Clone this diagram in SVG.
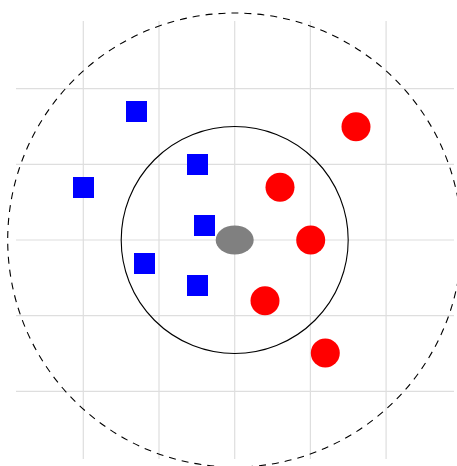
<svg xmlns="http://www.w3.org/2000/svg" width="457" height="466" viewBox="0 0 457 466">
<style>
.grid line{stroke:#dedede;stroke-width:1.2}
.sq{fill:#0000ff}
.dot{fill:#ff0000}
</style>
<rect width="457" height="466" fill="#ffffff"/>
<g class="grid">
<line x1="83.3" y1="21" x2="83.3" y2="459"/>
<line x1="159" y1="21" x2="159" y2="459"/>
<line x1="234.7" y1="21" x2="234.7" y2="459"/>
<line x1="310.4" y1="21" x2="310.4" y2="459"/>
<line x1="386.1" y1="21" x2="386.1" y2="459"/>
<line x1="16" y1="88.6" x2="454" y2="88.6"/>
<line x1="16" y1="164.3" x2="454" y2="164.3"/>
<line x1="16" y1="240" x2="454" y2="240"/>
<line x1="16" y1="315.7" x2="454" y2="315.7"/>
<line x1="16" y1="391.4" x2="454" y2="391.4"/>
</g>
<g id="connectors">
<circle id="outer" cx="234.7" cy="240" r="227" fill="none" stroke="#000" stroke-width="1.1" stroke-dasharray="7,6"/>
<circle id="inner" cx="234.7" cy="240" r="113.5" fill="none" stroke="#000" stroke-width="1.1"/>
</g>
<g id="center"><ellipse cx="234.7" cy="240" rx="19" ry="14.5" fill="#808080"/></g>
<g id="b1"><rect class="sq" x="126" y="101" width="21" height="21"/></g>
<g id="b2"><rect class="sq" x="73" y="177" width="21" height="21"/></g>
<g id="b3"><rect class="sq" x="187" y="154" width="21" height="21"/></g>
<g id="b4"><rect class="sq" x="194" y="215" width="21" height="21"/></g>
<g id="b5"><rect class="sq" x="134" y="253" width="21" height="21"/></g>
<g id="b6"><rect class="sq" x="187" y="275" width="21" height="21"/></g>
<g id="r1"><circle class="dot" cx="356" cy="126.7" r="14.5"/></g>
<g id="r2"><circle class="dot" cx="280" cy="187.3" r="14.5"/></g>
<g id="r3"><circle class="dot" cx="310.7" cy="240" r="14.5"/></g>
<g id="r4"><circle class="dot" cx="265" cy="300.7" r="14.5"/></g>
<g id="r5"><circle class="dot" cx="325.3" cy="353" r="14.5"/></g>
</svg>
